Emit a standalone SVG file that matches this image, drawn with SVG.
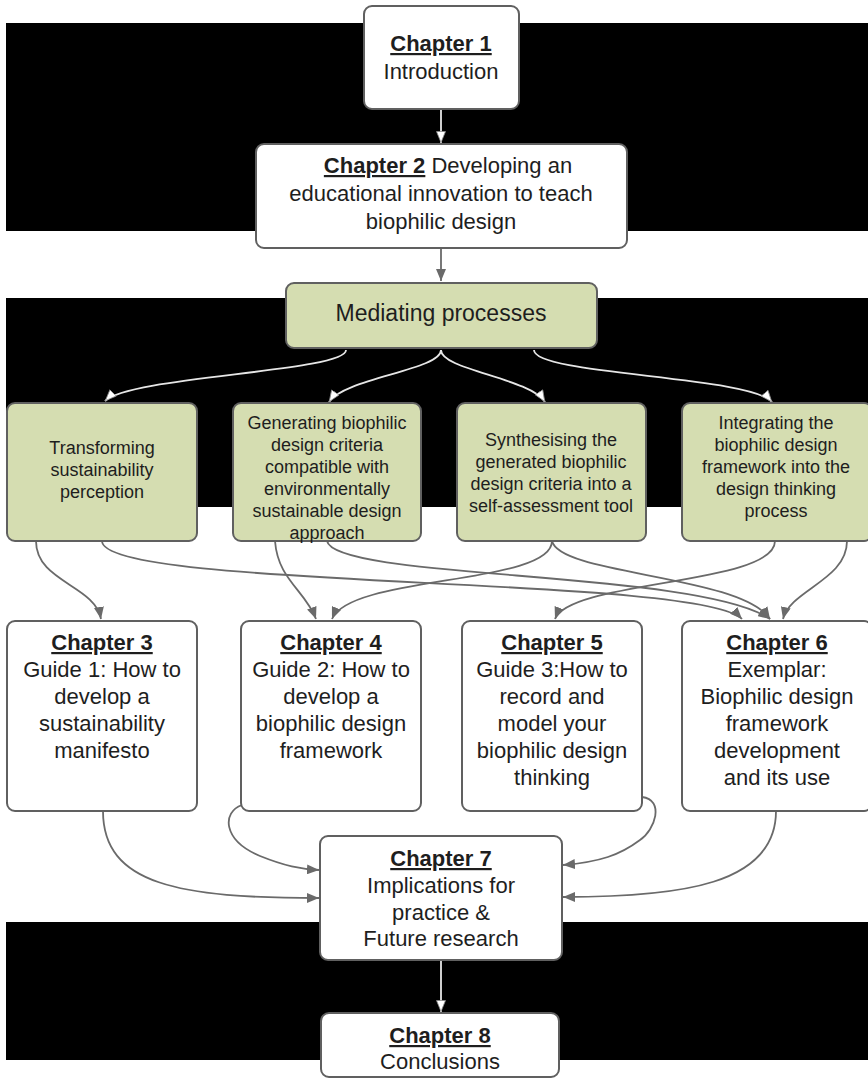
<svg xmlns="http://www.w3.org/2000/svg" width="868" height="1079" viewBox="0 0 868 1079">
  <defs>
    <style>
      .band { fill: #000; }
      .box { fill: #fff; stroke: #606060; stroke-width: 2; }
      .green { fill: #d5ddb1; stroke: #606060; stroke-width: 2; }
      .t { font-family: "Liberation Sans", Arial, sans-serif; fill: #1e1e1e; text-anchor: middle; }
      .big { font-size: 22px; }
      .med { font-size: 23px; }
      .sm { font-size: 18px; }
      .hd { font-weight: bold; text-decoration: underline; }
      .lnk { fill: none; stroke: #6a6a6a; stroke-width: 1.8; marker-end: url(#ah); }
      .lnkw { fill: none; stroke: #e6e6e6; stroke-width: 1.8; marker-end: url(#ahw); }
    </style>
    <marker id="ah" viewBox="0 0 12 10" refX="12" refY="5" markerWidth="12" markerHeight="10" markerUnits="userSpaceOnUse" orient="auto">
      <path d="M0,0 L12,5 L0,10 Z" fill="#6a6a6a"/>
    </marker>
    <marker id="ahw" viewBox="0 0 12 10" refX="12" refY="5" markerWidth="12" markerHeight="10" markerUnits="userSpaceOnUse" orient="auto">
      <path d="M0.5,0.5 L11.5,5 L0.5,9.5 Z" fill="#ffffff" stroke="#888" stroke-width="0.8"/>
    </marker>
  </defs>

  <rect width="868" height="1079" fill="#fff"/>

  <!-- background bands -->
  <g id="bands">
    <rect class="band" x="6" y="23" width="862" height="208"/>
    <rect class="band" x="6" y="298" width="862" height="209"/>
    <rect class="band" x="6" y="922" width="862" height="138"/>
  </g>

  <!-- connectors -->
  <g id="connectors">
    <path class="lnkw" d="M441,109 L441,143"/>
    <path class="lnk" d="M441,248 L441,281"/>
    <path class="lnkw" d="M346,350 C346,372 130,376 105,401"/>
    <path class="lnkw" d="M441,350 C441,370 345,378 329,402"/>
    <path class="lnkw" d="M441,350 C441,370 530,378 545,402"/>
    <path class="lnkw" d="M534,350 C534,375 750,376 772,402"/>

    <path class="lnk" d="M36,541 C36,582 95,585 101,619"/>
    <path class="lnk" d="M102,541 C102,590 700,575 742,619"/>
    <path class="lnk" d="M275,541 C278,580 305,590 316,619"/>
    <path class="lnk" d="M327,541 C335,580 700,570 770,619"/>
    <path class="lnk" d="M552,541 C552,585 350,575 332,619"/>
    <path class="lnk" d="M552,541 C560,575 740,575 770,619"/>
    <path class="lnk" d="M775,541 C775,585 570,580 555,619"/>
    <path class="lnk" d="M847,541 C847,580 790,590 783,619"/>

    <path class="lnk" d="M103,811 C103,885 180,898 319,898"/>
    <path class="lnk" d="M242,805 C222,812 222,840 260,856 C285,866 300,869 319,870"/>
    <path class="lnk" d="M642,797 C665,800 655,830 640,840 C620,855 600,862 563,865"/>
    <path class="lnk" d="M776,811 C776,885 680,897 563,897"/>

    <path class="lnkw" d="M441,960 L441,1012"/>
  </g>

  <g id="ch1">
    <rect class="box" x="364" y="6" width="155" height="103" rx="8"/>
    <text class="t big" x="441" y="51"><tspan class="hd">Chapter 1</tspan></text>
    <text class="t big" x="441" y="79">Introduction</text>
  </g>

  <g id="ch2">
    <rect class="box" x="256" y="144" width="371" height="104" rx="8"/>
    <text class="t big" x="448" y="173"><tspan class="hd">Chapter 2</tspan> Developing an</text>
    <text class="t big" x="441" y="201">educational innovation to teach</text>
    <text class="t big" x="441" y="229">biophilic design</text>
  </g>

  <g id="mediating">
    <rect class="green" x="286" y="283" width="311" height="65" rx="8"/>
    <text class="t med" x="441" y="321">Mediating processes</text>
  </g>

  <g id="p1">
    <rect class="green" x="7" y="403" width="190" height="138" rx="8"/>
    <text class="t sm" x="102" y="454">Transforming</text>
    <text class="t sm" x="102" y="476">sustainability</text>
    <text class="t sm" x="102" y="498">perception</text>
  </g>

  <g id="p2">
    <rect class="green" x="233" y="403" width="188" height="138" rx="8"/>
    <text class="t sm" x="327" y="429">Generating biophilic</text>
    <text class="t sm" x="327" y="451">design criteria</text>
    <text class="t sm" x="327" y="473">compatible with</text>
    <text class="t sm" x="327" y="495">environmentally</text>
    <text class="t sm" x="327" y="517">sustainable design</text>
    <text class="t sm" x="327" y="539">approach</text>
  </g>

  <g id="p3">
    <rect class="green" x="457" y="403" width="189" height="138" rx="8"/>
    <text class="t sm" x="551" y="446">Synthesising the</text>
    <text class="t sm" x="551" y="468">generated biophilic</text>
    <text class="t sm" x="551" y="490">design criteria into a</text>
    <text class="t sm" x="551" y="512">self-assessment tool</text>
  </g>

  <g id="p4">
    <rect class="green" x="682" y="403" width="190" height="138" rx="8"/>
    <text class="t sm" x="776" y="429">Integrating the</text>
    <text class="t sm" x="776" y="451">biophilic design</text>
    <text class="t sm" x="776" y="473">framework into the</text>
    <text class="t sm" x="776" y="495">design thinking</text>
    <text class="t sm" x="776" y="517">process</text>
  </g>

  <g id="ch3">
    <rect class="box" x="7" y="621" width="190" height="190" rx="8"/>
    <text class="t big" x="102" y="650"><tspan class="hd">Chapter 3</tspan></text>
    <text class="t big" x="102" y="677">Guide 1: How to</text>
    <text class="t big" x="102" y="704">develop a</text>
    <text class="t big" x="102" y="731">sustainability</text>
    <text class="t big" x="102" y="758">manifesto</text>
  </g>

  <g id="ch4">
    <rect class="box" x="241" y="621" width="180" height="190" rx="8"/>
    <text class="t big" x="331" y="650"><tspan class="hd">Chapter 4</tspan></text>
    <text class="t big" x="331" y="677">Guide 2: How to</text>
    <text class="t big" x="331" y="704">develop a</text>
    <text class="t big" x="331" y="731">biophilic design</text>
    <text class="t big" x="331" y="758">framework</text>
  </g>

  <g id="ch5">
    <rect class="box" x="462" y="621" width="180" height="190" rx="8"/>
    <text class="t big" x="552" y="650"><tspan class="hd">Chapter 5</tspan></text>
    <text class="t big" x="552" y="677">Guide 3:How to</text>
    <text class="t big" x="552" y="704">record and</text>
    <text class="t big" x="552" y="731">model your</text>
    <text class="t big" x="552" y="758">biophilic design</text>
    <text class="t big" x="552" y="785">thinking</text>
  </g>

  <g id="ch6">
    <rect class="box" x="682" y="621" width="190" height="190" rx="8"/>
    <text class="t big" x="777" y="650"><tspan class="hd">Chapter 6</tspan></text>
    <text class="t big" x="777" y="677">Exemplar:</text>
    <text class="t big" x="777" y="704">Biophilic design</text>
    <text class="t big" x="777" y="731">framework</text>
    <text class="t big" x="777" y="758">development</text>
    <text class="t big" x="777" y="785">and its use</text>
  </g>

  <g id="ch7">
    <rect class="box" x="320" y="836" width="242" height="124" rx="8"/>
    <text class="t big" x="441" y="866"><tspan class="hd">Chapter 7</tspan></text>
    <text class="t big" x="441" y="893">Implications for</text>
    <text class="t big" x="441" y="920">practice &amp;</text>
    <text class="t big" x="441" y="946">Future research</text>
  </g>

  <g id="ch8">
    <rect class="box" x="321" y="1013" width="238" height="64" rx="8"/>
    <text class="t big" x="440" y="1043"><tspan class="hd">Chapter 8</tspan></text>
    <text class="t big" x="440" y="1069">Conclusions</text>
  </g>
</svg>
